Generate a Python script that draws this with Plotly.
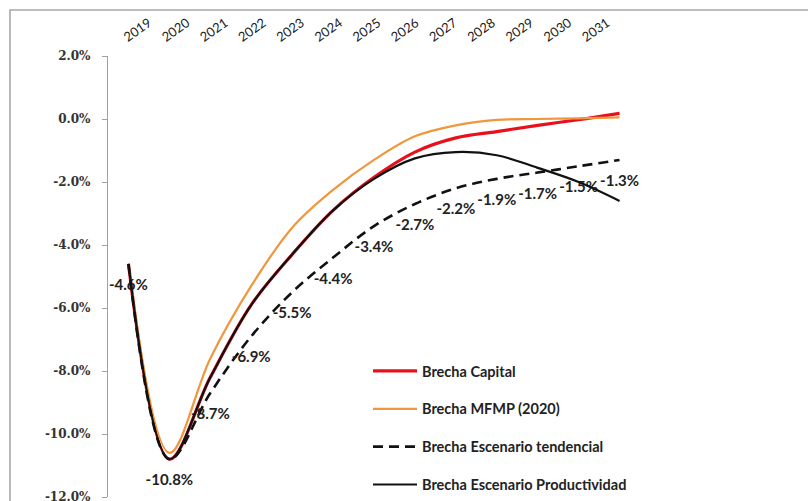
import plotly.graph_objects as go

# Output-gap paths, % of potential GDP
years = [2019, 2020, 2021, 2022, 2023, 2024, 2025, 2026, 2027, 2028, 2029, 2030, 2031]
brecha_capital = [-4.6, -10.8, -8.2, -5.9, -4.3, -2.9, -1.85, -1.05, -0.6, -0.4, -0.2, -0.02, 0.18]
brecha_mfmp = [-4.6, -10.6, -7.6, -5.3, -3.45, -2.25, -1.3, -0.55, -0.2, -0.03, 0.0, 0.02, 0.05]
brecha_tendencial = [-4.6, -10.8, -8.7, -6.9, -5.5, -4.4, -3.4, -2.7, -2.2, -1.9, -1.7, -1.5, -1.3]
brecha_productividad = [-4.6, -10.8, -8.2, -5.9, -4.3, -2.9, -1.9, -1.25, -1.05, -1.15, -1.55, -2.0, -2.6]

series_names = [
    "Brecha Capital",
    "Brecha MFMP (2020)",
    "Brecha Escenario tendencial",
    "Brecha Escenario Productividad",
]

y_ticks = [2, 0, -2, -4, -6, -8, -10, -12]
boundaries = [y - 0.5 for y in years] + [years[-1] + 0.5]

W, H = 808, 501
ML, MR, MT, MB = 108, 168, 56, 4
PW, PH = W - ML - MR, H - MT - MB

sans = "Lato, 'Liberation Sans', sans-serif"
serif = "'DejaVu Serif', serif"

fig = go.Figure()

fig.add_trace(go.Scatter(
    x=years, y=brecha_capital, name="<b>" + series_names[0] + "</b>",
    mode="lines", line=dict(color="#e8101a", width=3.2, shape="spline"),
    legendgroup="a",
))
fig.add_trace(go.Scatter(
    x=years, y=brecha_mfmp, name="<b>" + series_names[1] + "</b>",
    mode="lines", line=dict(color="#f0963c", width=2.2, shape="spline"),
    legendgroup="b",
))
fig.add_trace(go.Scatter(
    x=years, y=brecha_tendencial, name="<b>" + series_names[2] + "</b>",
    mode="lines+markers+text",
    line=dict(color="#111111", width=2.6, shape="spline", dash="10px,6px"),
    # transparent markers give the value labels some clearance below the line
    marker=dict(size=22, color="rgba(0,0,0,0)"),
    text=[f"{v:.1f}%" for v in brecha_tendencial],
    textposition="bottom center",
    textfont=dict(family=sans, size=15, color="#222222", weight="bold"),
    legendgroup="c",
))
fig.add_trace(go.Scatter(
    x=years, y=brecha_productividad, name="<b>" + series_names[3] + "</b>",
    mode="lines", line=dict(color="#111111", width=2.2, shape="spline"),
    legendgroup="d",
))
# empty trace that attaches the year-label axis
fig.add_trace(go.Scatter(
    x=years, y=[None] * len(years), xaxis="x3", mode="lines",
    showlegend=False, hoverinfo="skip",
))

# outer chart frame
fig.add_shape(
    type="rect", xref="paper", yref="paper",
    x0=(10 - ML) / PW, x1=(W + 20 - ML) / PW,
    y0=-0.2, y1=1 + (MT - 10) / PH,
    line=dict(color="#a8a8a8", width=1.6), layer="below",
)

fig.update_layout(
    width=W, height=H,
    margin=dict(l=ML, r=MR, t=MT, b=MB, autoexpand=False),
    paper_bgcolor="white", plot_bgcolor="white",
    showlegend=True,
    legend=dict(
        x=(368 - ML) / PW, y=(H - MB - 355) / PH,
        xanchor="left", yanchor="top",
        font=dict(family=sans, size=14.5, color="#222222"),
        itemwidth=44,
        tracegroupgap=16, bgcolor="rgba(0,0,0,0)",
    ),
    # data axis: carries the traces, no visible decoration
    xaxis=dict(
        range=[years[0] - 0.5, years[-1] + 0.5],
        showticklabels=False, showline=False, ticks="", showgrid=False,
        zeroline=False, automargin=False,
    ),
    # category axis line crossing at 0%, with ticks between categories
    xaxis2=dict(
        range=[years[0] - 0.5, years[-1] + 0.5],
        overlaying="x", anchor="free", position=12 / 14, side="bottom",
        showline=True, linecolor="#a0a0a0", linewidth=1.2,
        ticks="outside", ticklen=5, tickcolor="#a0a0a0",
        tickvals=boundaries, showticklabels=False,
        showgrid=False, zeroline=False, automargin=False,
    ),
    # year labels along the top, on a slightly tighter spacing
    xaxis3=dict(
        range=[2018.45, 2032.38],
        overlaying="x", anchor="y", side="top",
        tickvals=years, ticktext=[str(y) for y in years],
        tickangle=-35, showline=False, ticks="", showgrid=False, zeroline=False,
        tickfont=dict(family=sans, size=13, color="#222222"),
        ticklabelstandoff=9, ticklabelshift=-5,
        automargin=False,
    ),
    yaxis=dict(
        range=[-12, 2], tickvals=y_ticks,
        ticktext=[f"{v:.1f}%" for v in y_ticks],
        showline=True, linecolor="#a0a0a0", linewidth=1.2,
        ticks="outside", ticklen=5, tickcolor="#a0a0a0",
        ticklabelstandoff=9, ticklabeloverflow="allow",
        showgrid=False, zeroline=False, automargin=False,
        tickfont=dict(family=serif, size=12, color="#333333", weight="bold"),
    ),
)

fig.write_html("out.html")
